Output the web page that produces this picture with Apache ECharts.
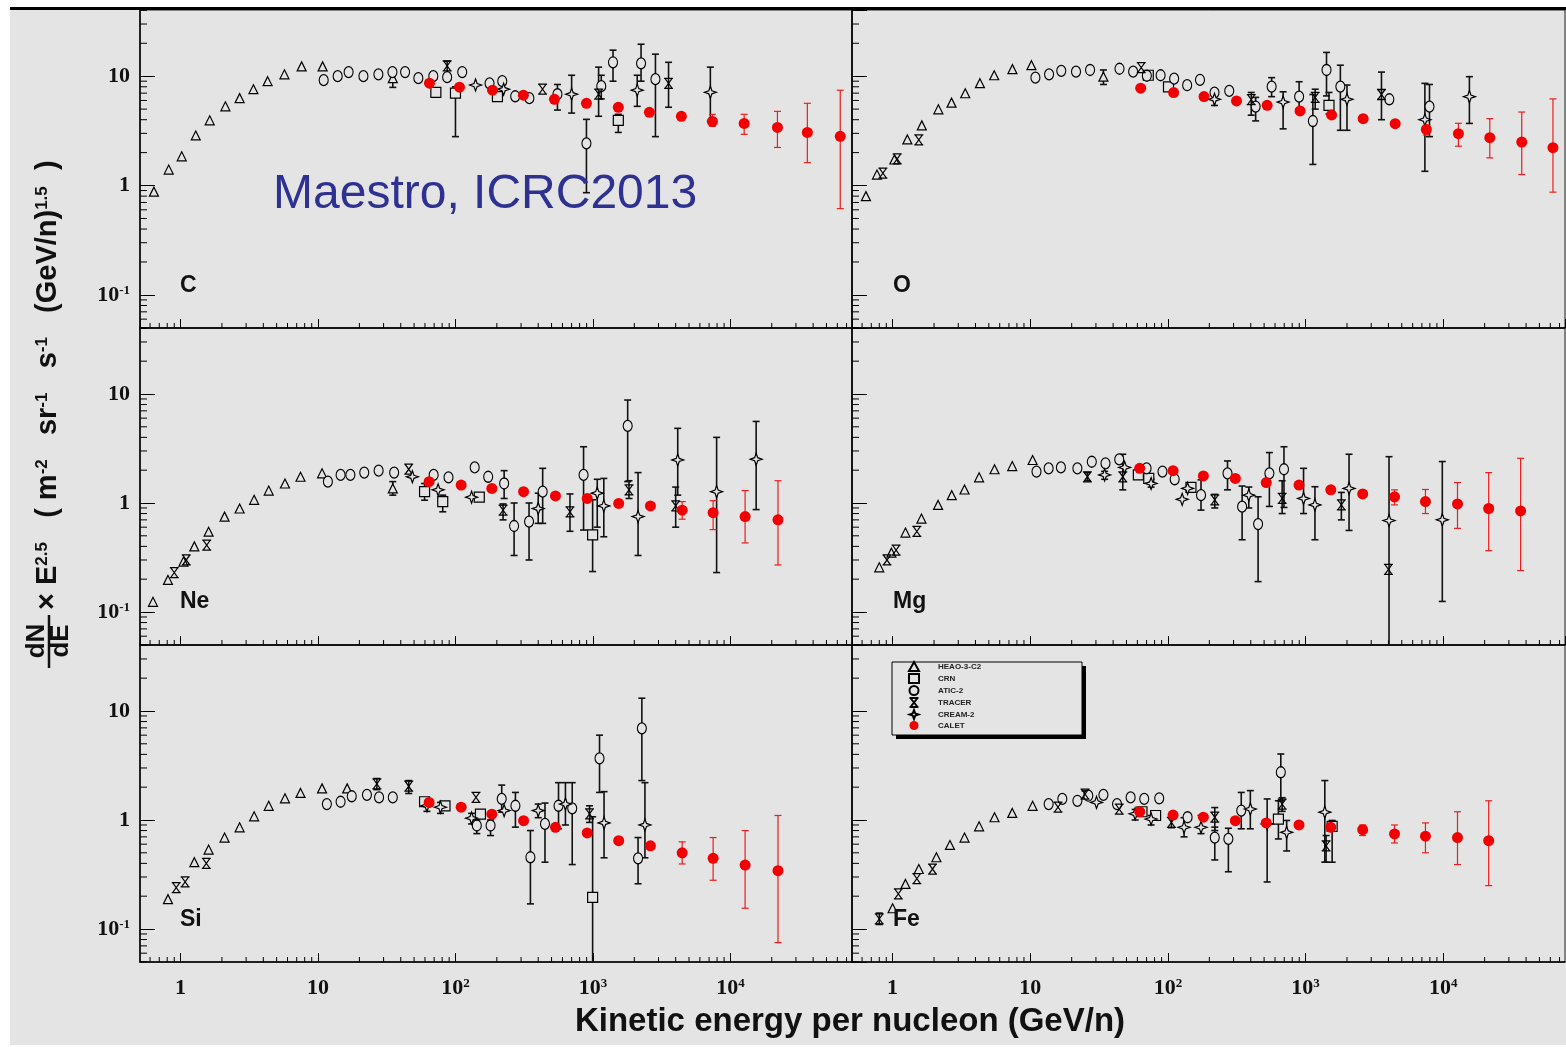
<!DOCTYPE html>
<html>
<head>
<meta charset="utf-8">
<title>CR nuclei spectra</title>
<script src="https://cdn.jsdelivr.net/npm/echarts@6/dist/echarts.min.js"></script>
<style>
  html, body { margin: 0; padding: 0; background: #fff; }
  #chart { width: 1566px; height: 1047px; }
</style>
</head>
<body>
<div id="chart"></div>
<script>
// points are [E (GeV/n), flux x E^2.5, errLow, errHigh]; errors optional

// ---- Carbon
const C_HEAO = [[0.64,0.88],[0.82,1.40],[1.02,1.85],[1.29,2.87],[1.63,3.95],[2.12,5.3],[2.69,6.3],[3.39,7.6],[4.30,9.0],[5.7,10.4],[7.6,12.3],[10.8,12.3],[35,9.6,7.9,11.4]];
const C_CRN = [[72,7.1],[100,7.0,2.8,8.0],[202,6.5],[1530,3.95,3.06,4.48]];
const C_ATIC = [[11,9.2],[13.9,10.0],[16.7,10.9],[21.4,10.0],[27.5,10.4],[34.8,10.9],[43,10.9],[53.7,9.6],[69,10.0],[87,9.8],[112,10.9],[177,8.6],[219,9.0],[272,6.55],[345,6.3],[552,6.84,4.9,8.4],[897,2.43,0.86,4.03],[1150,8.1,6.2,10.2],[1400,13.4,9.0,17.3],[2240,13.1,9.0,19.6],[2850,9.4,2.8,15.9]];
const C_TRACER = [[87,12.4,10.0,13.7],[430,7.6],[1100,6.84,4.3,12.1],[3550,8.6,5.2,13.4]];
const C_CREAM = [[140,8.3],[224,7.6],[700,6.84,4.6,10.2],[2100,7.45,5.3,10.2],[7150,7.13,3.86,12.1]];
const C_CALET = [[64.7,8.63],[107,7.93],[186,7.44],[312,6.70],[525,6.15],[897,5.65],[1530,5.19],[2575,4.67],[4400,4.30],[7400,3.86,3.48,4.48],[12600,3.70,2.94,4.48],[22000,3.40,2.23,4.77],[36300,3.06,1.62,5.65],[63000,2.82,0.615,7.44]];

// ---- Oxygen
const O_HEAO = [[0.64,0.80],[0.77,1.26],[1.03,1.73],[1.28,2.64],[1.63,3.55],[2.15,4.98],[2.68,5.73],[3.37,6.98],[4.31,8.63],[5.47,10.2],[7.42,11.6],[10.2,12.6],[34,9.9,8.4,11.4]];
const O_CRN = [[72,10.2],[101,8.0],[1480,5.4,4.5,7.1]];
const O_ATIC = [[10.9,9.7],[13.7,10.4],[16.8,11.2],[21.5,11.0],[27.2,11.4],[44.5,11.7],[55.9,11.0],[70.3,10.1],[88.5,10.2],[111,9.5],[138,8.27],[171,9.25],[218,7.08],[279,7.33],[434,5.27,3.9,6.4],[567,8.04,6.5,9.7],[898,6.51,4.6,8.9],[1130,3.89,1.56,6.8],[1420,11.4,6.6,16.5],[1790,8.04,3.2,12.6],[4060,6.15],[7950,5.27,2.8,8.4]];
const O_TRACER = [[0.85,1.30],[1.08,1.75],[1.55,2.62],[64,12.0],[403,6.1,4.4,7.1],[1175,6.4,5.0,7.6],[3560,6.8,4.0,10.9]];
const O_CREAM = [[218,6.15,5.4,7.0],[687,5.8,3.3,7.2],[2000,6.15,3.2,8.3],[7360,4.0,1.35,8.6],[15500,6.5,3.7,9.9]];
const O_CALET = [[63.4,7.76],[110,7.08],[183,6.51],[315,5.94],[526,5.42],[912,4.81],[1545,4.42],[2620,4.09],[4480,3.68],[7540,3.26,2.9,3.55],[12900,2.98,2.29,3.71],[21800,2.74,1.79,4.09],[37200,2.50,1.26,4.7],[62700,2.22,0.87,6.2]];

// ---- Neon
const Ne_HEAO = [[0.63,0.124],[0.81,0.197],[1.05,0.29],[1.26,0.40],[1.60,0.545],[2.09,0.75],[2.69,0.89],[3.43,1.07],[4.38,1.30],[5.75,1.51],[7.46,1.74],[10.7,1.87],[35,1.36,1.18,1.57]];
const Ne_CRN = [[59.6,1.27,1.06,1.51],[80.8,1.03,0.83,1.18],[149,1.13],[995,0.51,0.235,1.07]];
const Ne_ATIC = [[11.8,1.57],[14.6,1.81],[17.2,1.81],[21.7,1.90],[27.6,1.98],[35.8,1.90],[69.4,1.81],[89,1.72],[138,2.12],[173,1.74],[226,1.51,1.10,1.98],[267,0.615,0.33,1.0],[343,0.675,0.30,1.0],[431,1.27,0.65,2.08],[855,1.81,0.565,3.28],[1790,5.09,1.57,8.8]];
const Ne_TRACER = [[0.9,0.23],[1.1,0.30],[1.55,0.41],[45.7,2.04],[222,0.86,0.70,0.98],[681,0.83,0.55,1.21],[1830,1.32,1.1,1.6],[4000,0.94,0.6,1.4]];
const Ne_CREAM = [[48.6,1.74],[74.8,1.32],[131,1.13],[400,0.89,0.65,1.23],[1075,1.23,0.6,1.65],[1200,0.94,0.49,1.68],[2130,0.75,0.33,1.90],[4140,2.48,1.18,4.84],[7940,1.27,0.23,4.0],[15400,2.52,0.87,5.6]];
const Ne_CALET = [[64.3,1.57],[110,1.46],[184,1.36],[313,1.27],[534,1.16],[909,1.10],[1540,0.99],[2620,0.94],[4460,0.86,0.71,1.03],[7490,0.815,0.57,1.05],[12800,0.75,0.43,1.30],[22200,0.70,0.27,1.6]];

// ---- Magnesium
const Mg_HEAO = [[0.80,0.257],[0.98,0.35],[1.24,0.535],[1.62,0.72],[2.14,0.96],[2.69,1.18],[3.33,1.33],[4.25,1.72],[5.5,2.04],[7.4,2.18],[10.4,2.48]];
const Mg_CRN = [[61,1.81],[72.6,1.68],[147,1.39]];
const Mg_ATIC = [[11.1,1.94],[13.6,2.08],[16.7,2.12],[22,2.08],[28,2.39],[35.2,2.31],[44.3,2.51],[70,2.08],[91.3,1.94],[112,1.65],[174,1.18,0.86,1.63],[271,1.87,1.32,2.43],[346,0.925,0.46,1.43],[452,0.64,0.19,1.14],[546,1.87,0.93,2.9],[697,2.04,0.91,3.28]];
const Mg_TRACER = [[0.91,0.30],[1.06,0.37],[1.50,0.55],[26,1.74,1.6,1.9],[47,1.74,1.32,2.8],[219,1.07,0.9,1.2],[676,1.10,0.8,1.6],[1820,0.96,0.7,1.25],[4000,0.246]];
const Mg_CREAM = [[34.7,1.81,1.65,1.95],[48.5,2.12],[75.5,1.51,1.4,1.65],[127,1.08],[139,1.36],[387,1.18,0.9,1.4],[967,1.10,0.80,2.08],[1170,0.96,0.46,1.41],[2070,1.36,0.56,2.8],[4040,0.69,0.04,2.66],[9850,0.70,0.125,2.4]];
const Mg_CALET = [[62.4,2.08],[109,1.98],[181,1.77],[309,1.68],[518,1.54],[896,1.46],[1525,1.32],[2600,1.21],[4430,1.14,0.96,1.32],[7430,1.03,0.80,1.33],[12700,0.98,0.585,1.54],[21400,0.89,0.365,1.9],[36500,0.845,0.24,2.57]];

// ---- Silicon
const Si_HEAO = [[0.81,0.188],[1.26,0.41],[1.60,0.535],[2.09,0.69],[2.69,0.857],[3.43,1.08],[4.38,1.35],[5.75,1.58],[7.46,1.77],[10.7,1.95],[16.3,1.95]];
const Si_CRN = [[59.6,1.47],[83.9,1.35],[152,1.13],[995,0.195,0.04,1.07]];
const Si_ATIC = [[11.6,1.40],[14.6,1.47],[17.6,1.65],[22.7,1.70],[27.8,1.61],[35,1.61],[143,0.89,0.75,1.0],[180,0.89,0.72,1.0],[217,1.56,1.18,2.09],[273,1.35,0.86,1.79],[351,0.455,0.17,0.80],[448,0.92,0.41,1.43],[562,1.35,0.83,2.2],[707,1.28,0.39,2.2],[1117,3.68,1.79,6.0],[2130,0.445,0.26,0.69],[2270,6.93,2.3,13.1]];
const Si_TRACER = [[0.93,0.24],[1.08,0.27],[1.54,0.40],[26.8,2.14,1.9,2.4],[45.7,2.04,1.75,2.3],[141,1.61],[945,1.14,0.95,1.35]];
const Si_CREAM = [[62,1.35,1.2,1.5],[77.8,1.31,1.15,1.45],[131,1.04,0.92,1.15],[226,1.22],[400,1.22,1.05,1.40],[631,1.40,0.9,2.2],[1205,0.94,0.45,1.82],[2390,0.90,0.45,2.2]];
const Si_CALET = [[64.3,1.45],[110,1.31],[184,1.13],[313,0.986],[534,0.857],[909,0.76],[1540,0.646],[2620,0.58],[4460,0.50,0.395,0.63],[7490,0.445,0.28,0.69],[12800,0.386,0.155,0.80],[22200,0.343,0.075,1.10]];

// ---- Iron
const Fe_HEAO = [[1.0,0.155],[1.24,0.259],[1.55,0.355],[2.08,0.455],[2.61,0.59],[3.33,0.69],[4.25,0.875],[5.5,1.06],[7.4,1.16],[10.4,1.35]];
const Fe_CRN = [[64.8,1.19],[81.4,1.10],[635,1.02,0.67,1.5],[1560,0.875,0.41,0.99]];
const Fe_ATIC = [[13.6,1.40],[17.1,1.56],[22,1.50],[26.4,1.67],[34,1.70],[42.7,1.40],[53.6,1.61],[67.3,1.56],[86.5,1.58],[139,1.06],[219,0.69,0.43,0.86],[275,0.67,0.335,0.84],[341,1.22,0.83,1.79],[661,2.74,1.50,4.03]];
const Fe_TRACER = [[0.80,0.124,0.11,0.14],[1.10,0.21],[1.50,0.29],[1.95,0.355],[15.9,1.31],[25,1.73,1.6,1.85],[44.3,1.26],[106,0.95,0.85,1.05],[219,1.06,0.8,1.3],[676,1.40,1.2,1.6],[1410,0.58,0.41,0.72]];
const Fe_CREAM = [[30.3,1.45],[57.8,1.14,1.0,1.25],[75.5,1.02,0.9,1.1],[131,0.857,0.7,1.05],[174,0.857,0.75,1.1],[397,1.26,0.83,1.86],[526,0.92,0.27,1.56],[729,0.77,0.52,0.99],[1380,1.18,0.41,2.3]];
const Fe_CALET = [[62.4,1.19],[109,1.11],[181,1.06],[309,0.986],[518,0.94],[896,0.90],[1525,0.857],[2600,0.815,0.72,0.90],[4430,0.745,0.615,0.90],[7430,0.71,0.50,0.94],[12700,0.69,0.39,1.19],[21400,0.646,0.25,1.50]];

const PANEL_LABELS = ['C', 'O', 'Ne', 'Mg', 'Si', 'Fe'];
const EXP_NAMES = ['HEAO-3-C2', 'CRN', 'ATIC-2', 'TRACER', 'CREAM-2', 'CALET'];

const X_MIN = 0.507, X_MAX = 76700;
const Y_MIN = 0.0498, Y_MAX = 40.3;

const PANELS = [
  [C_HEAO, C_CRN, C_ATIC, C_TRACER, C_CREAM, C_CALET],
  [O_HEAO, O_CRN, O_ATIC, O_TRACER, O_CREAM, O_CALET],
  [Ne_HEAO, Ne_CRN, Ne_ATIC, Ne_TRACER, Ne_CREAM, Ne_CALET],
  [Mg_HEAO, Mg_CRN, Mg_ATIC, Mg_TRACER, Mg_CREAM, Mg_CALET],
  [Si_HEAO, Si_CRN, Si_ATIC, Si_TRACER, Si_CREAM, Si_CALET],
  [Fe_HEAO, Fe_CRN, Fe_ATIC, Fe_TRACER, Fe_CREAM, Fe_CALET]
];

const BG = '#e4e4e4';
const COLS = [{ left: 140, width: 712 }, { left: 852, width: 713 }];
const ROWS = [{ top: 10, height: 318 }, { top: 328, height: 317 }, { top: 645, height: 317 }];

const TRACER_PATH = 'path://M0,0L10,0M0,10L10,10M1,0L9,10M9,0L1,10';
const CREAM_PATH = 'path://M5,0L6.3,3.7L10,5L6.3,6.3L5,10L3.7,6.3L0,5L3.7,3.7Z';
const MARKERS = [
  { symbol: 'triangle', size: 9 },
  { symbol: 'rect', size: 10 },
  { symbol: 'circle', size: [9, 11] },
  { symbol: TRACER_PATH, size: [9, 10] },
  { symbol: CREAM_PATH, size: 12 },
  { symbol: 'circle', size: 11 }
];

// minor tick positions (2..9 x 10^k) inside the axis ranges
const X_MINOR = [];
for (let k = -1; k <= 4; k++) for (let m = 2; m <= 9; m++) {
  const v = m * Math.pow(10, k);
  if (v > X_MIN && v < X_MAX) X_MINOR.push(v);
}
const Y_MINOR = [];
for (let k = -2; k <= 1; k++) for (let m = 2; m <= 9; m++) {
  const v = m * Math.pow(10, k);
  if (v > Y_MIN && v < Y_MAX) Y_MINOR.push(v);
}

const powLabel = (v) => {
  const e = Math.round(Math.log10(v));
  if (e === 0) return '1';
  if (e === 1) return '10';
  return '10{sup|' + e + '}';
};

const labelFont = {
  fontFamily: 'Liberation Serif',
  fontWeight: 'bold',
  fontSize: 22,
  color: '#111',
  rich: { sup: { fontFamily: 'Liberation Serif', fontWeight: 'bold', fontSize: 13, color: '#111', verticalAlign: 'top' } }
};

const makeErrRender = (color, width) => (params, api) => {
  const x = api.value(0);
  const lo = api.coord([x, api.value(2)]);
  const hi = api.coord([x, api.value(3)]);
  const cap = 3.5;
  const style = { stroke: color, lineWidth: width };
  return {
    type: 'group',
    children: [
      { type: 'line', shape: { x1: lo[0], y1: lo[1], x2: hi[0], y2: hi[1] }, style },
      { type: 'line', shape: { x1: lo[0] - cap, y1: lo[1], x2: lo[0] + cap, y2: lo[1] }, style },
      { type: 'line', shape: { x1: hi[0] - cap, y1: hi[1], x2: hi[0] + cap, y2: hi[1] }, style }
    ]
  };
};

const grids = [], xAxes = [], yAxes = [], series = [];

PANELS.forEach((sets, i) => {
  const row = Math.floor(i / 2), col = i % 2;
  grids.push({
    left: COLS[col].left, width: COLS[col].width,
    top: ROWS[row].top, height: ROWS[row].height,
    show: true, borderColor: '#222', borderWidth: 1, backgroundColor: 'transparent'
  });
  xAxes.push({
    type: 'log', gridIndex: i, min: X_MIN, max: X_MAX, logBase: 10,
    axisLine: { show: true, lineStyle: { color: '#000', width: 1.5 } },
    axisTick: { inside: true, length: 9, lineStyle: { color: '#000', width: 1 } },
    axisLabel: Object.assign({ show: row === 2, margin: 15, formatter: powLabel, showMinLabel: false, showMaxLabel: false }, labelFont),
    splitLine: { show: false }
  });
  yAxes.push({
    type: 'log', gridIndex: i, min: Y_MIN, max: Y_MAX, logBase: 10,
    axisLine: { show: true, lineStyle: { color: '#000', width: 1.5 } },
    axisTick: { inside: true, length: 15, lineStyle: { color: '#000', width: 1 } },
    axisLabel: Object.assign({ show: col === 0, margin: 10, formatter: powLabel, showMinLabel: false, showMaxLabel: false }, labelFont),
    splitLine: { show: false }
  });

  // minor ticks
  series.push({
    type: 'custom', xAxisIndex: i, yAxisIndex: i, silent: true, clip: false,
    data: X_MINOR.map((v) => [v, Y_MIN]),
    renderItem: (params, api) => {
      const p = api.coord([api.value(0), Y_MIN]);
      return { type: 'line', shape: { x1: p[0], y1: p[1], x2: p[0], y2: p[1] - 5 }, style: { stroke: '#000', lineWidth: 1 } };
    }
  });
  series.push({
    type: 'custom', xAxisIndex: i, yAxisIndex: i, silent: true, clip: false,
    data: Y_MINOR.map((v) => [X_MIN, v]),
    renderItem: (params, api) => {
      const p = api.coord([X_MIN, api.value(1)]);
      return { type: 'line', shape: { x1: p[0], y1: p[1], x2: p[0] + 7, y2: p[1] }, style: { stroke: '#000', lineWidth: 1 } };
    }
  });

  // error bars
  const blackErr = [];
  sets.slice(0, 5).forEach((arr) => arr.forEach((d) => { if (d.length === 4) blackErr.push(d); }));
  series.push({
    type: 'custom', name: 'err', xAxisIndex: i, yAxisIndex: i, silent: true, clip: true,
    encode: { x: 0, y: 1 }, data: blackErr, renderItem: makeErrRender('#111', 1.6)
  });
  series.push({
    type: 'custom', name: 'errCalet', xAxisIndex: i, yAxisIndex: i, silent: true, clip: true,
    encode: { x: 0, y: 1 }, data: sets[5].filter((d) => d.length === 4), renderItem: makeErrRender('#ee1c1c', 1.2)
  });

  // markers
  sets.forEach((arr, k) => {
    const isCalet = k === 5;
    series.push({
      type: 'scatter', name: EXP_NAMES[k], xAxisIndex: i, yAxisIndex: i,
      symbol: MARKERS[k].symbol, symbolSize: MARKERS[k].size,
      data: arr.map((d) => [d[0], d[1]]),
      itemStyle: isCalet
        ? { color: '#f20000', borderWidth: 0, opacity: 1 }
        : { color: BG, borderColor: '#000', borderWidth: 1.2, opacity: 1 },
      z: isCalet ? 4 : 3
    });
  });
});

const graphics = [
  { type: 'rect', shape: { x: 10, y: 9, width: 1556, height: 1036 }, style: { fill: BG }, z: -10, silent: true },
  { type: 'rect', shape: { x: 10, y: 7, width: 1556, height: 3 }, style: { fill: '#000' }, z: 100, silent: true },
  // legend box with shadow
  { type: 'rect', shape: { x: 896, y: 666, width: 190, height: 73 }, style: { fill: '#000' }, z: 50 },
  { type: 'rect', shape: { x: 892, y: 662, width: 190, height: 73 }, style: { fill: BG, stroke: '#000', lineWidth: 1 }, z: 51 },
  {
    type: 'text', x: 273, y: 195, z: 60,
    style: { text: 'Maestro, ICRC2013', font: '48px "Liberation Sans"', fill: '#2e3192', verticalAlign: 'middle' }
  },
  {
    type: 'text', x: 48, y: 610, rotation: Math.PI / 2, z: 60,
    style: {
      text: '\u00d7 E{sup|2.5}   ( m{sup|-2}   sr{sup|-1}   s{sup|-1}   (GeV/n){sup|1.5}  )',
      font: 'bold 29px "Liberation Sans"', fill: '#111', align: 'left', verticalAlign: 'middle',
      rich: { sup: { font: 'bold 17px "Liberation Sans"', fill: '#111', verticalAlign: 'top' } }
    }
  },
  { type: 'text', x: 37, y: 641, rotation: Math.PI / 2, z: 60, style: { text: 'dN', font: 'bold 26px "Liberation Sans"', fill: '#111', align: 'center', verticalAlign: 'middle' } },
  { type: 'text', x: 61, y: 641, rotation: Math.PI / 2, z: 60, style: { text: 'dE', font: 'bold 26px "Liberation Sans"', fill: '#111', align: 'center', verticalAlign: 'middle' } },
  { type: 'line', shape: { x1: 49, y1: 615, x2: 49, y2: 668 }, style: { stroke: '#111', lineWidth: 2.5 }, z: 60 },
  {
    type: 'text', x: 850, y: 1022, z: 60,
    style: { text: 'Kinetic energy per nucleon (GeV/n)', font: 'bold 33px "Liberation Sans"', fill: '#111', align: 'center', verticalAlign: 'middle' }
  }
];

const LABEL_POS = [[180, 286], [893, 286], [180, 602], [893, 602], [180, 920], [893, 920]];
PANEL_LABELS.forEach((t, i) => {
  graphics.push({
    type: 'text', x: LABEL_POS[i][0], y: LABEL_POS[i][1], z: 60,
    style: { text: t, font: 'bold 23px "Liberation Sans"', fill: '#111', verticalAlign: 'middle' }
  });
});

const chart = echarts.init(document.getElementById('chart'), null, { renderer: 'canvas' });
chart.setOption({
  backgroundColor: '#fff',
  animation: false,
  grid: grids,
  xAxis: xAxes,
  yAxis: yAxes,
  legend: {
    data: EXP_NAMES,
    orient: 'vertical',
    left: 908, top: 661, padding: 0,
    itemWidth: 10, itemHeight: 9, itemGap: 1,
    textStyle: { fontSize: 8, lineHeight: 9, fontWeight: 'bold', color: '#222', fontFamily: 'Liberation Sans', padding: [0, 0, 0, 14] },
    selectedMode: false,
    z: 55
  },
  graphic: graphics,
  series: series
});
</script>
</body>
</html>
